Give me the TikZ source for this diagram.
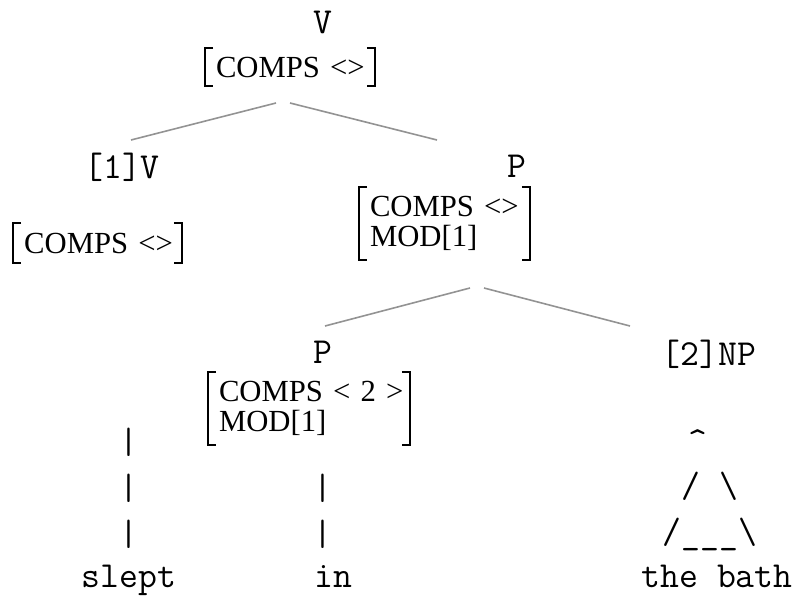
\documentclass[tikz,border=0pt]{standalone}
\usepackage{fontspec}
\setmainfont{Liberation Serif}
\begin{document}
\begin{tikzpicture}[x=0.75pt,y=-0.75pt,
  lbl/.style={font=\ttfamily\fontsize{27.5}{27.5}\selectfont, inner sep=0pt, anchor=base},
  avm/.style={font=\fontsize{23}{22.5}\selectfont, align=left, inner xsep=8pt,
    inner ysep=0pt, anchor=center},
  brkline/.style={line width=1.5pt, black},
  branch/.style={line width=1.2pt, gray!85}]
\useasboundingbox (0,0) rectangle (811,596);

% category labels
\node[lbl] (vtop) at (323,33) {V};
\node[lbl] (v1) at (122,178) {[1]V};
\node[lbl] (pr) at (517,177) {P};
\node[lbl] (pl) at (323,363) {P};
\node[lbl] (np) at (709,365) {[2]NP};

% attribute-value matrices
\node[avm, text width=111pt, minimum height=28.5pt] (avmT) at (290,67) {COMPS~<>};
\node[avm, text width=110pt, minimum height=30pt] (avmL) at (97.5,243) {COMPS~<>};
\node[avm, text width=111.75pt, minimum height=54.75pt] (avmR) at (444.5,223.5) {COMPS~<>\\MOD[1]};
\node[avm, text width=135pt, minimum height=54.75pt] (avmP) at (309,408.5) {COMPS~<~2~>\\MOD[1]};

\foreach \m in {avmT,avmL,avmR,avmP}{
  \draw[brkline] ([xshift=6pt]\m.north west) -- (\m.north west) -- (\m.south west) -- ([xshift=6pt]\m.south west);
  \draw[brkline] ([xshift=-6pt]\m.north east) -- (\m.north east) -- (\m.south east) -- ([xshift=-6pt]\m.south east);
}

% branch ends
\coordinate (tA) at (276,103);
\coordinate (tB) at (290,103);
\coordinate (tL) at (131,140);
\coordinate (tR) at (437,140);
\coordinate (mA) at (470,288);
\coordinate (mB) at (484,288);
\coordinate (mL) at (325,326);
\coordinate (mR) at (630,326);
\draw[branch] (tL) -- (tA);
\draw[branch] (tB) -- (tR);
\draw[branch] (mL) -- (mA);
\draw[branch] (mB) -- (mR);

% vertical strokes down to the words
\node[lbl] (s1) at (129,453) {|};
\node[lbl] (s2) at (129,499) {|};
\node[lbl] (s3) at (129,545) {|};
\node[lbl] (i1) at (323,499) {|};
\node[lbl] (i2) at (323,545) {|};

% triangle over the noun phrase
\node[lbl] (t1) at (698,452) {\^{}};
\node[lbl] (t2) at (710,497) {/ \textbackslash};
\node[lbl] (t3) at (710,543) {/\_\_\_\textbackslash};

% words
\node[lbl] (w1) at (129,587) {slept};
\node[lbl] (w2) at (333,587) {in};
\node[lbl] (w3) at (717,587) {the bath};
\end{tikzpicture}
\end{document}
